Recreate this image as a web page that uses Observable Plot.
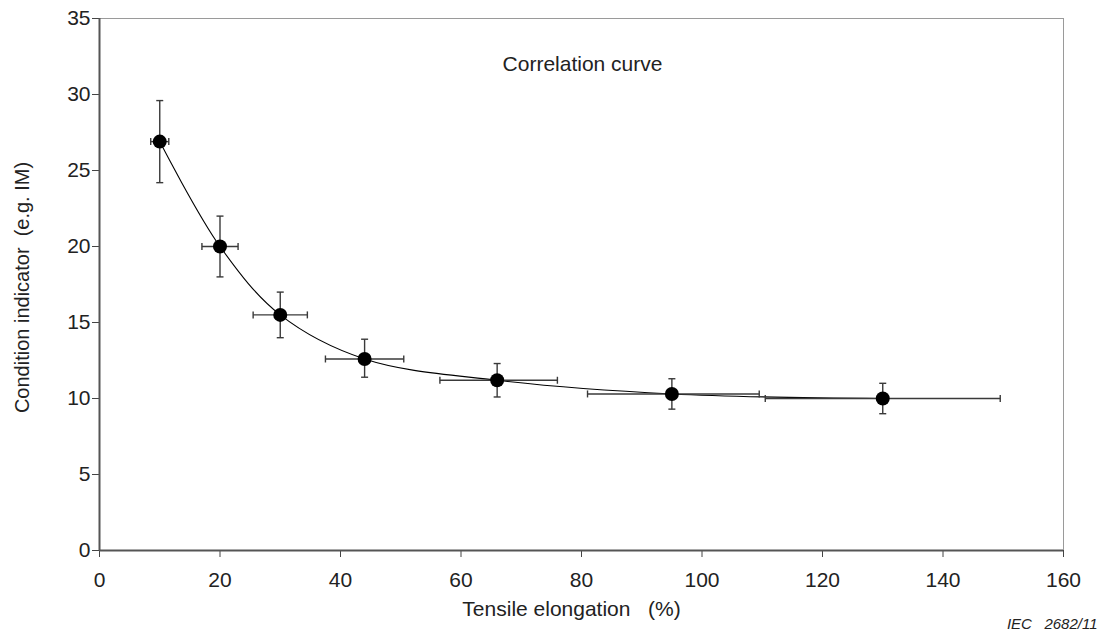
<!DOCTYPE html>
<html>
<head>
<meta charset="utf-8">
<script src="https://cdn.jsdelivr.net/npm/d3@7"></script>
<script src="https://cdn.jsdelivr.net/npm/@observablehq/plot@0.6"></script>
<style>
  html, body { margin: 0; padding: 0; background: #fff; }
  svg { display: block; }
</style>
</head>
<body>
<div id="chart"></div>
<script>
// Data
const elongation = [10, 20, 30, 44, 66, 95, 130];
const indicator  = [26.9, 20, 15.5, 12.6, 11.2, 10.3, 10.0];
const elongLow   = [8.5, 17, 25.5, 37.5, 56.5, 81, 110.5];
const elongHigh  = [11.5, 23, 34.5, 50.5, 76, 109.5, 149.5];
const indLow     = [24.2, 18, 14, 11.4, 10.1, 9.3, 9.0];
const indHigh    = [29.6, 22, 17, 13.9, 12.3, 11.3, 11.0];
const xTicks = [0, 20, 40, 60, 80, 100, 120, 140, 160];
const yTicks = [0, 5, 10, 15, 20, 25, 30, 35];
const xLabel = "Tensile elongation\u00a0\u00a0\u00a0(%)";
const yLabel = "Condition indicator\u00a0\u00a0(e.g.\u00a0IM)";
const annotation = "Correlation curve";
const caption = "IEC\u00a0\u00a0\u00a02682/11";

const data = elongation.map((x, i) => ({
  x, y: indicator[i],
  x1: elongLow[i], x2: elongHigh[i],
  y1: indLow[i], y2: indHigh[i]
}));

const hCap = { draw(ctx, size) { const r = Math.sqrt(size / Math.PI); ctx.moveTo(-r, 0); ctx.lineTo(r, 0); } };
const vCap = { draw(ctx, size) { const r = Math.sqrt(size / Math.PI); ctx.moveTo(0, -r); ctx.lineTo(0, r); } };

const barColor = "#3a3a3a";
const font = "'Liberation Sans', Arial, sans-serif";

const chart = Plot.plot({
  width: 1099,
  height: 635,
  marginLeft: 99,
  marginRight: 36,
  marginTop: 18,
  marginBottom: 85,
  style: { fontFamily: font, fontSize: "21px", color: "#222", background: "#fff" },
  x: { domain: [0, 160] },
  y: { domain: [0, 35] },
  marks: [
    Plot.frame({ stroke: "#9a9a9a", strokeWidth: 1 }),
    Plot.axisX({ ticks: xTicks, tickSize: 7, tickPadding: 15, label: null, fontSize: 21, stroke: "#444" }),
    Plot.axisY({ ticks: yTicks, tickSize: 7, tickPadding: 2, label: null, fontSize: 21, stroke: "#444" }),
    Plot.ruleX([0], { stroke: "#555", strokeWidth: 2 }),
    Plot.ruleY([0], { stroke: "#555", strokeWidth: 2 }),
    // curve
    Plot.line(data, { x: "x", y: "y", curve: "catmull-rom", stroke: "#000", strokeWidth: 1.1 }),
    // vertical error bars
    Plot.link(data, { x1: "x", x2: "x", y1: "y1", y2: "y2", stroke: barColor, strokeWidth: 1.4 }),
    Plot.dot(data, { x: "x", y: "y1", symbol: hCap, r: 3.5, stroke: barColor, strokeWidth: 1.4 }),
    Plot.dot(data, { x: "x", y: "y2", symbol: hCap, r: 3.5, stroke: barColor, strokeWidth: 1.4 }),
    // horizontal error bars
    Plot.link(data, { x1: "x1", x2: "x2", y1: "y", y2: "y", stroke: barColor, strokeWidth: 1.4 }),
    Plot.dot(data, { x: "x1", y: "y", symbol: vCap, r: 3.5, stroke: barColor, strokeWidth: 1.4 }),
    Plot.dot(data, { x: "x2", y: "y", symbol: vCap, r: 3.5, stroke: barColor, strokeWidth: 1.4 }),
    // markers
    Plot.dot(data, { x: "x", y: "y", r: 7, fill: "#000", stroke: "none" }),
    // texts
    Plot.text([annotation], { frameAnchor: "top", lineAnchor: "middle", textAnchor: "middle", dy: 46, dx: 1, text: d => d, fontSize: 21, fill: "#222" }),
    Plot.text([xLabel], { frameAnchor: "bottom", lineAnchor: "middle", textAnchor: "middle", dy: 59, dx: -10, text: d => d, fontSize: 21, fill: "#222" }),
    Plot.text([yLabel], { frameAnchor: "left", lineAnchor: "middle", textAnchor: "middle", dx: -77, dy: 3, rotate: -90, text: d => d, fontSize: 20, fill: "#222" }),
    Plot.text([caption], { frameAnchor: "bottom-right", lineAnchor: "middle", textAnchor: "end", dx: 34, dy: 74, text: d => d, fontSize: 15, fontStyle: "italic", fill: "#222" })
  ]
});
document.getElementById("chart").appendChild(chart);
</script>
</body>
</html>
